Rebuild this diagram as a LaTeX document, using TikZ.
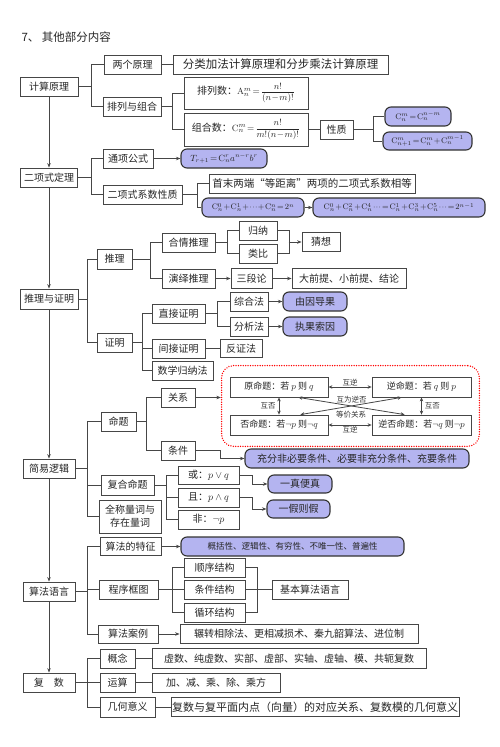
\documentclass[tikz,border=0pt]{standalone}
\usepackage[no-math]{fontspec}
\setmainfont{Noto Sans CJK SC}
\usepackage{amsmath}
\usetikzlibrary{arrows.meta, fit}

\definecolor{lav}{RGB}{180,180,240}
\definecolor{ln}{RGB}{70,70,70}

% compact formulas
\newcommand{\fml}[2][8.5]{{\fontsize{#1}{11}\selectfont$\medmuskip=1mu\thickmuskip=2mu\thinmuskip=1mu #2$}}

\tikzset{
  box/.style={draw=ln, line width=0.8pt, fill=white, minimum height=19, inner sep=1pt,
    font=\fontsize{10}{12}\selectfont, text=black!85},
  pbox/.style={box, fill=lav, draw=black!80, line width=1.1pt, rounded corners=6pt},
  mbox/.style={box, minimum width=98, minimum height=20, font=\fontsize{9}{11}\selectfont},
  link/.style={draw=ln, line width=0.8pt},
  arr/.style={link, -{Stealth[length=4.5pt, width=3.5pt]}},
  darr/.style={link, {Stealth[length=4pt, width=3.5pt]}-{Stealth[length=4pt, width=3.5pt]}},
  lab/.style={font=\fontsize{7.5}{8}\selectfont, text=black!80, inner sep=1pt},
}

\begin{document}
\begin{tikzpicture}[x=1pt, y=-1pt]
  \useasboundingbox (0,0) rectangle (500,747);
  % Title
  \node[anchor=west, font=\fontsize{11.5}{13}\selectfont, text=black!85] (title) at (18,37) {7、 其他部分内容};

  % Main column
  \node[box, minimum width=58] (jsyl) at (49,86.5) {计算原理};
  \node[box, minimum width=57] (exsdl) at (49,177.5) {二项式定理};
  \node[box, minimum width=58, minimum height=20] (tlzm) at (49,299) {推理与证明};
  \node[box, minimum width=52] (jyljj) at (49,468.5) {简易逻辑};
  \node[box, minimum width=52] (sfyy) at (49,591.5) {算法语言};
  \node[box, minimum width=52] (fs) at (49,682.5) {复　数};
  \draw[arr] (jsyl) -- (exsdl);
  \draw[arr] (exsdl) -- (tlzm);
  \draw[arr] (tlzm) -- (jyljj);
  \draw[arr] (jyljj) -- (sfyy);
  \draw[arr] (sfyy) -- (fs);

  % 计算原理
  \node[box, minimum width=57] (lgyl) at (132.5,64.5) {两个原理};
  \node[box, minimum width=58] (plzh) at (132,106.5) {排列与组合};
  \node[box, minimum width=215, font=\fontsize{11.5}{13}\selectfont] (flzj) at (280.5,64.5) {分类加法计算原理和分步乘法计算原理};
  \node[box, minimum width=124, minimum height=32] (pls) at (246,93) {排列数：\fml[9.5]{\mathrm{A}_n^m=\dfrac{n!}{(n-m)!}}};
  \node[box, minimum width=124, minimum height=33] (zhs) at (246,129.5) {组合数：\fml[9.5]{\mathrm{C}_n^m=\dfrac{n!}{m!(n-m)!}}};
  \node[box, minimum width=33] (xz) at (336.5,129.5) {性质};
  \node[pbox, minimum width=66] (xz1) at (418,116.5) {\fml{\mathrm{C}_n^m=\mathrm{C}_n^{n-m}}};
  \node[pbox, minimum width=89, minimum height=18] (xz2) at (427.5,141) {\fml{\mathrm{C}_{n+1}^m=\mathrm{C}_n^m+\mathrm{C}_n^{m-1}}};
  \draw[link] (jsyl.east) -- +(13,0) |- (lgyl.west);
  \draw[link] (jsyl.east) -- +(13,0) |- (plzh.west);
  \draw[link] (lgyl) -- (flzj);
  \draw[link] (plzh.east) -- +(11,0) |- (pls.west);
  \draw[link] (plzh.east) -- +(11,0) |- (zhs.west);
  \draw[link] (zhs) -- (xz);
  \draw[link] (xz.east) -- +(20,0) |- (xz1.west);
  \draw[link] (xz.east) -- +(20,0) |- (xz2.west);

  % 二项式定理
  \node[box, minimum width=50] (txgs) at (128,158.5) {通项公式};
  \node[box, minimum width=79] (xsxz) at (142.5,194.5) {二项式系数性质};
  \node[pbox, minimum width=86] (txf) at (224,158.5) {\fml[9]{T_{r+1}=\mathrm{C}_n^r a^{n-r}b^r}};
  \node[box, minimum width=206, font=\fontsize{10.5}{12}\selectfont] (smld) at (312,183.5) {首末两端“等距离”两项的二项式系数相等};
  \node[pbox, minimum width=102] (hk1) at (253,207.5) {\fml{\mathrm{C}_n^0+\mathrm{C}_n^1+\cdots+\mathrm{C}_n^n=2^n}};
  \node[pbox, minimum width=172] (hk2) at (399,207.5) {\fml{\mathrm{C}_n^0+\mathrm{C}_n^2+\mathrm{C}_n^4\cdots=\mathrm{C}_n^1+\mathrm{C}_n^3+\mathrm{C}_n^5\cdots=2^{n-1}}};
  \draw[link] (exsdl.east) -- +(13,0) |- (txgs.west);
  \draw[link] (exsdl.east) -- +(13,0) |- (xsxz.west);
  \draw[arr] (txgs) -- (txf);
  \draw[link] (xsxz.east) -- +(15,0) |- (smld.west);
  \draw[link] (xsxz.east) -- +(15,0) |- (hk1.west);
  \draw[arr] (hk1) -- (hk2);

  % 推理与证明
  \node[box, minimum width=35, minimum height=20] (tl) at (114.5,259) {推理};
  \node[box, minimum width=35] (zm) at (114.5,342.5) {证明};
  \node[box, minimum width=53] (hqtl) at (188.5,242.5) {合情推理};
  \node[box, minimum width=53] (yytl) at (188.5,278.5) {演绎推理};
  \node[box, minimum width=38] (gnl) at (258,230.5) {归纳};
  \node[box, minimum width=38] (lb) at (258,253.5) {类比};
  \node[box, minimum width=38] (cx) at (321,242) {猜想};
  \node[box, minimum width=41, minimum height=20] (sdl) at (251.5,278.5) {三段论};
  \node[box, minimum width=114, minimum height=20] (dqt) at (349,278.5) {大前提、小前提、结论};
  \node[box, minimum width=53] (zjzm) at (178.5,313.5) {直接证明};
  \node[box, minimum width=53] (jjzm) at (178.5,348.5) {间接证明};
  \node[box, minimum width=61] (sxgn) at (182.5,370.5) {数学归纳法};
  \node[box, minimum width=38] (zhf) at (249,301.5) {综合法};
  \node[box, minimum width=38] (fxf) at (249,326.5) {分析法};
  \node[pbox, minimum width=64] (ygdg) at (315,301.5) {由因导果};
  \node[pbox, minimum width=64] (zgsy) at (315,326.5) {执果索因};
  \node[box, minimum width=42, minimum height=18] (fzf) at (241,348.5) {反证法};
  \draw[link] (tlzm.east) -- +(9,0) |- (tl.west);
  \draw[link] (tlzm.east) -- +(9,0) |- (zm.west);
  \draw[link] (tl.east) -- +(18,0) |- (hqtl.west);
  \draw[link] (tl.east) -- +(18,0) |- (yytl.west);
  \draw[link] (hqtl.east) -- +(12,0) |- (gnl.west);
  \draw[link] (hqtl.east) -- +(12,0) |- (lb.west);
  \draw[link] (gnl.east) -- +(12,0) |- (lb.east);
  \draw[arr] (cx.west) +(-13,0) -- (cx.west);
  \draw[arr] (yytl) -- (sdl);
  \draw[arr] (sdl) -- (dqt);
  \draw[link] (zm.east) -- +(10,0) |- (zjzm.west);
  \draw[link] (zm.east) -- +(10,0) |- (jjzm.west);
  \draw[link] (zm.east) -- +(10,0) |- (sxgn.west);
  \draw[link] (zjzm.east) -- +(12,0) |- (zhf.west);
  \draw[link] (zjzm.east) -- +(12,0) |- (fxf.west);
  \draw[arr] (zhf) -- (ygdg);
  \draw[arr] (fxf) -- (zgsy);
  \draw[link] (jjzm) -- (fzf);

  % 简易逻辑
  \node[box, minimum width=35] (mt) at (118.5,421.5) {命题};
  \node[box, minimum width=53, minimum height=20] (fhmt) at (127.5,485) {复合命题};
  \node[box, minimum width=62, minimum height=33, align=center, font=\fontsize{10}{13}\selectfont] (qcl) at (130,516.5) {全称量词与\\存在量词};
  \node[box, minimum width=34] (gx) at (178,397.5) {关系};
  \node[box, minimum width=34] (tj) at (178,450.5) {条件};
  \node[mbox] (ymt) at (279,387) {原命题：若 $p$ 则 $q$};
  \node[mbox, minimum width=99] (nmt) at (421.5,387) {逆命题：若 $q$ 则 $p$};
  \node[mbox] (fmt) at (279,425) {否命题：若$\neg p$ 则$\neg q$};
  \node[mbox, minimum width=99] (nfmt) at (421.5,425) {逆否命题：若$\neg q$ 则$\neg p$};
  \node[draw=red, line width=1.5pt, line cap=round, dash pattern=on 0.01pt off 2.4pt,
    rounded corners=12pt, fit=(ymt)(nfmt), inner xsep=8, inner ysep=11] (gxk) {};
  \draw[darr] (ymt) -- node[lab, above] {互逆} (nmt);
  \draw[darr] (fmt) -- node[lab, below] {互逆} (nfmt);
  \draw[darr] (ymt) -- node[lab, left=2pt] {互否} (fmt);
  \draw[darr] (nmt) -- node[lab, right=2pt] {互否} (nfmt);
  \draw[darr] ([xshift=-30]ymt.south east) -- node[lab, above=2pt] {互为逆否} ([xshift=33]nfmt.north west);
  \draw[darr] ([xshift=30]nmt.south west) -- node[lab, below=4pt] {等价关系} ([xshift=-28]fmt.north east);
  \node[pbox, minimum width=224] (cdtj) at (357,458.5) {充分非必要条件、必要非充分条件、充要条件};
  \node[box, minimum width=61, minimum height=18] (huo) at (208.5,475) {或：$p\vee q$};
  \node[box, minimum width=61] (qie) at (208.5,497.5) {且：$p\wedge q$};
  \node[box, minimum width=61] (fei) at (208.5,519.5) {非：$\neg p$};
  \node[pbox, minimum width=64, minimum height=18] (yzbz) at (300,484) {一真便真};
  \node[pbox, minimum width=63, minimum height=18] (yjzj) at (298.5,509) {一假则假};
  \draw[link] (jyljj.east) -- +(12,0) |- (mt.west);
  \draw[link] (jyljj.east) -- +(12,0) |- (fhmt.west);
  \draw[link] (jyljj.east) -- +(12,0) |- (qcl.west);
  \draw[link] (mt.east) -- +(10,0) |- (gx.west);
  \draw[link] (mt.east) -- +(10,0) |- (tj.west);
  \draw[arr] (gx.east) -- (gx.east -| gxk.west);
  \draw[arr] (tj.east) -- +(25,0) |- (cdtj.west);
  \draw[link] (fhmt.east) -- +(12,0) |- (huo.west);
  \draw[link] (fhmt.east) -- +(12,0) |- (qie.west);
  \draw[link] (fhmt.east) -- +(12,0) |- (fei.west);
  \draw[arr] (huo.east) -- +(13,0) |- (yzbz.west);
  \draw[arr] (qie.east) -- +(13,0) |- (yjzj.west);

  % 算法语言
  \node[box, minimum width=61, minimum height=18] (tz) at (130.5,546.5) {算法的特征};
  \node[box, minimum width=59] (kt) at (128.5,589.5) {程序框图};
  \node[box, minimum width=60, minimum height=18] (al) at (128,634) {算法案例};
  \node[pbox, minimum width=223, font=\fontsize{8.5}{10}\selectfont] (kkx) at (292.5,546.5) {概括性、逻辑性、有穷性、不唯一性、普遍性};
  \node[box, minimum width=61] (sxjg) at (214.5,567.5) {顺序结构};
  \node[box, minimum width=61] (tjjg) at (214.5,589.5) {条件结构};
  \node[box, minimum width=61] (xhjg) at (214.5,612.5) {循环结构};
  \node[box, minimum width=76] (jbsf) at (310,589.5) {基本算法语言};
  \node[box, minimum width=238] (zzxc) at (299,634) {辗转相除法、更相减损术、秦九韶算法、进位制};
  \draw[link] (sfyy.east) -- +(12,0) |- (tz.west);
  \draw[link] (sfyy.east) -- +(12,0) |- (kt.west);
  \draw[link] (sfyy.east) -- +(12,0) |- (al.west);
  \draw[arr] (tz) -- (kkx);
  \draw[link] (kt.east) -- +(14,0) |- (sxjg.west);
  \draw[link] (kt.east) -- +(14,0) |- (tjjg.west);
  \draw[link] (kt.east) -- +(14,0) |- (xhjg.west);
  \draw[link] (sxjg.east) -- +(12,0) |- (xhjg.east);
  \draw[link] (tjjg) -- (jbsf);
  \draw[arr] (al) -- (zzxc);

  % 复数
  \node[box, minimum width=35] (gn) at (117.5,658.5) {概念};
  \node[box, minimum width=35] (ys) at (117.5,682.5) {运算};
  \node[box, minimum width=55, minimum height=20] (jh) at (127.5,707) {几何意义};
  \node[box, minimum width=274, minimum height=20] (xs) at (289,658.5) {虚数、纯虚数、实部、虚部、实轴、虚轴、模、共轭复数};
  \node[box, minimum width=128] (jj) at (216,682.5) {加、减、乘、除、乘方};
  \node[box, minimum width=284, font=\fontsize{11}{13}\selectfont] (fsfp) at (315,707) {复数与复平面内点（向量）的对应关系、复数模的几何意义};
  \draw[link] (fs.east) -- +(12,0) |- (gn.west);
  \draw[link] (fs.east) -- +(12,0) |- (ys.west);
  \draw[link] (fs.east) -- +(12,0) |- (jh.west);
  \draw[link] (gn) -- (xs);
  \draw[link] (ys) -- (jj);
  \draw[link] (jh) -- (fsfp);
\end{tikzpicture}
\end{document}
